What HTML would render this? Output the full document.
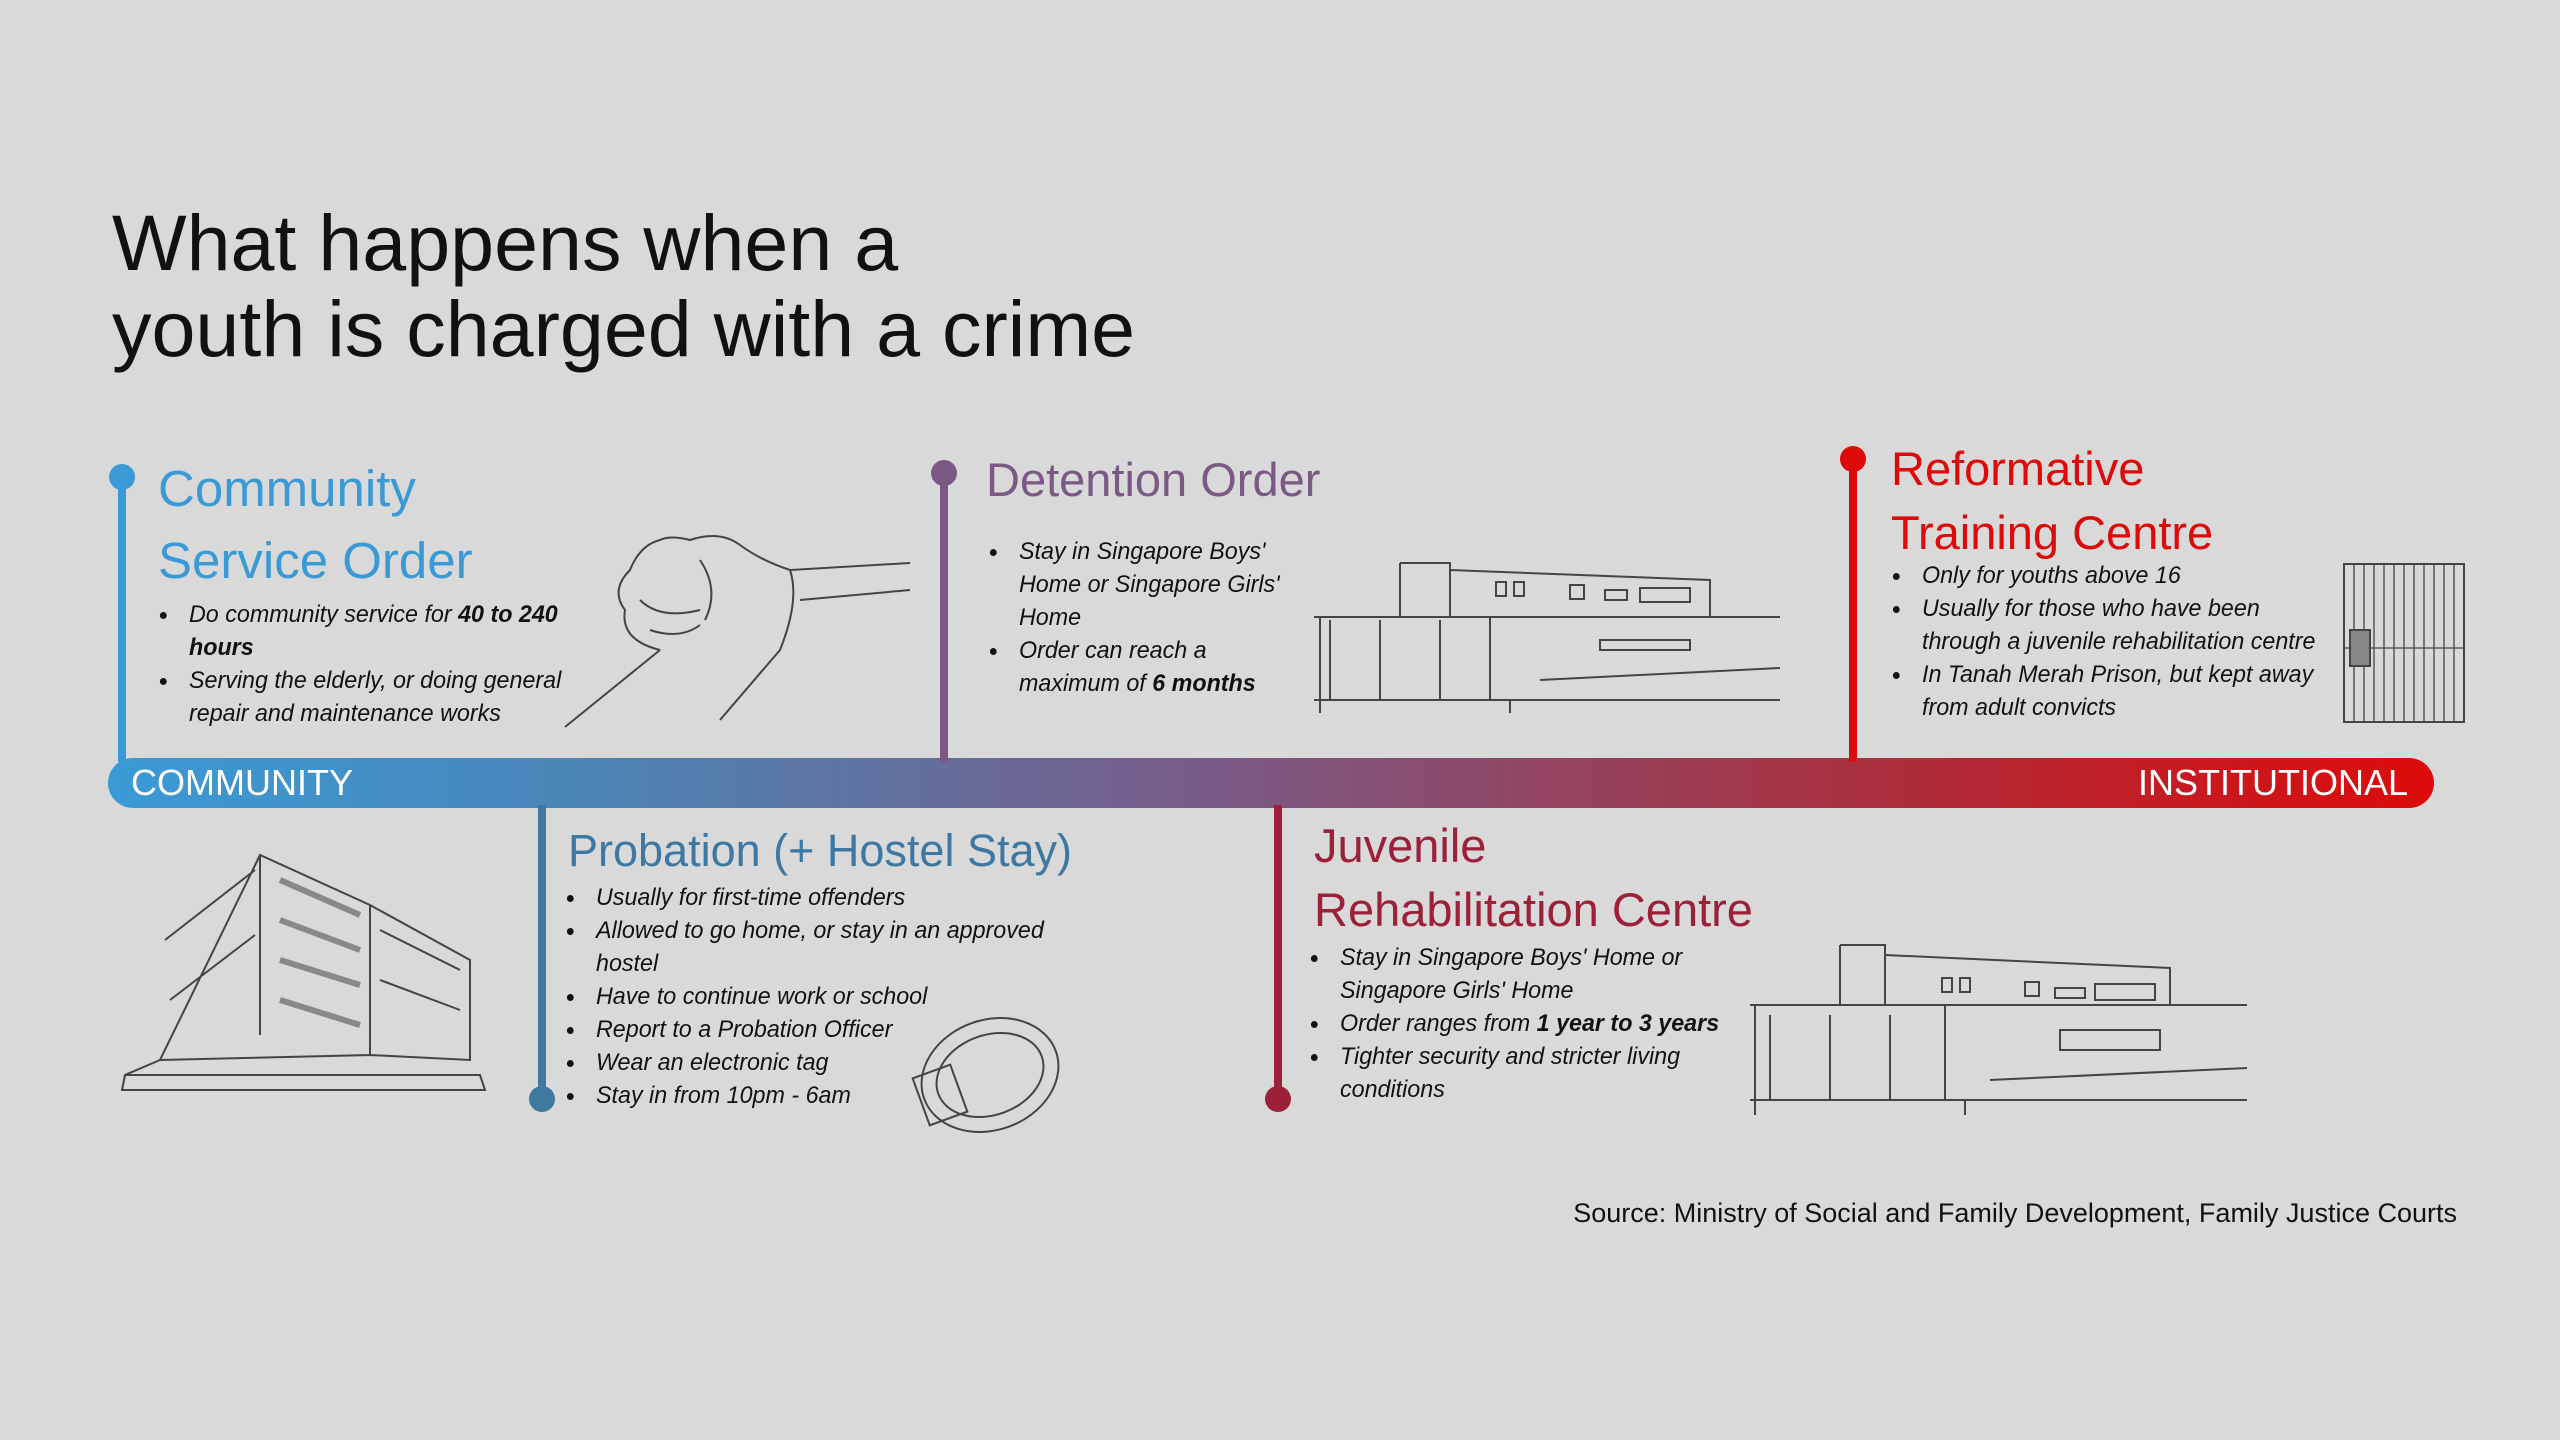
<!DOCTYPE html>
<html><head><meta charset="utf-8">
<style>
*{margin:0;padding:0;box-sizing:border-box}
body{width:2560px;height:1440px;background:#d9d9d9;position:relative;overflow:hidden;font-family:"Liberation Sans",sans-serif}
.a{position:absolute;white-space:nowrap}
.t{font-size:79px;line-height:86px;color:#111;left:112px;top:200px}
.h{font-size:47px;line-height:64px}
.b{font-size:24px;line-height:33px;font-style:italic;color:#111;transform:scaleX(0.97);transform-origin:0 0}
.b li{list-style:none;position:relative}
.b li.d:before{content:"";position:absolute;left:-30px;top:14px;width:7px;height:7px;border-radius:50%;background:#111}
.v{position:absolute;width:8px}
.dot{position:absolute;width:26px;height:26px;border-radius:50%}
</style></head><body>
<div class="a t">What happens when a<br>youth is charged with a crime</div>

<div style="position:absolute;left:108px;top:758px;width:2326px;height:50px;border-radius:25px;background:linear-gradient(90deg,#3a9ad6 0%,#4a86b8 20%,#7a5a85 48%,#a8303f 75%,#dd0a0a 100%)"></div>
<div class="a" style="left:131px;top:760px;font-size:36px;line-height:46px;color:#fff">COMMUNITY</div>
<div class="a" style="right:152px;top:760px;font-size:36px;line-height:46px;color:#fff">INSTITUTIONAL</div>

<div class="v" style="left:118px;top:477px;height:285px;background:#3a9ad6"></div><div class="dot" style="left:109px;top:464px;background:#3a9ad6"></div>
<div class="v" style="left:940px;top:473px;height:289px;background:#7a5a85"></div><div class="dot" style="left:931px;top:460px;background:#7a5a85"></div>
<div class="v" style="left:1849px;top:459px;height:303px;background:#dd0a0a"></div><div class="dot" style="left:1840px;top:446px;background:#dd0a0a"></div>
<div class="v" style="left:538px;top:805px;height:294px;background:#3e7aa0"></div><div class="dot" style="left:529px;top:1086px;background:#3e7aa0"></div>
<div class="v" style="left:1274px;top:805px;height:294px;background:#9b2038"></div><div class="dot" style="left:1265px;top:1086px;background:#9b2038"></div>

<div class="a h" style="left:158px;top:453px;color:#3a9ad6;line-height:72px;font-size:51px">Community<br>Service Order</div>
<div class="a h" style="left:986px;top:448px;color:#7a5a85">Detention Order</div>
<div class="a h" style="left:1891px;top:437px;color:#dd0a0a">Reformative<br>Training Centre</div>
<div class="a h" style="left:568px;top:819px;color:#3d78a3;font-size:45px">Probation (+ Hostel Stay)</div>
<div class="a h" style="left:1314px;top:814px;color:#9b2038">Juvenile<br>Rehabilitation Centre</div>

<ul class="a b" style="left:189px;top:598px"><li class="d">Do community service for <b>40 to 240</b></li><li><b>hours</b></li><li class="d">Serving the elderly, or doing general</li><li>repair and maintenance works</li></ul>
<ul class="a b" style="left:1019px;top:535px"><li class="d">Stay in Singapore Boys'</li><li>Home or Singapore Girls'</li><li>Home</li><li class="d">Order can reach a</li><li>maximum of <b>6 months</b></li></ul>
<ul class="a b" style="left:1922px;top:559px"><li class="d">Only for youths above 16</li><li class="d">Usually for those who have been</li><li>through a juvenile rehabilitation centre</li><li class="d">In Tanah Merah Prison, but kept away</li><li>from adult convicts</li></ul>
<ul class="a b" style="left:596px;top:881px"><li class="d">Usually for first-time offenders</li><li class="d">Allowed to go home, or stay in an approved</li><li>hostel</li><li class="d">Have to continue work or school</li><li class="d">Report to a Probation Officer</li><li class="d">Wear an electronic tag</li><li class="d">Stay in from 10pm - 6am</li></ul>
<ul class="a b" style="left:1340px;top:941px"><li class="d">Stay in Singapore Boys' Home or</li><li>Singapore Girls' Home</li><li class="d">Order ranges from <b>1 year to 3 years</b></li><li class="d">Tighter security and stricter living</li><li>conditions</li></ul>

<div class="a" style="right:103px;top:1196px;font-size:27px;line-height:34px;color:#111">Source: Ministry of Social and Family Development, Family Justice Courts</div>

<svg class="a" style="left:0;top:0" width="2560" height="1440" fill="none" stroke="#444" stroke-width="2">
<path d="M565 727 L660 650 M720 720 L780 650 Q800 600 790 570 L910 563 M800 600 L910 590 M660 650 Q620 640 625 610 Q610 590 630 570 Q640 545 660 540 Q670 535 690 540 Q720 530 740 545 Q760 560 790 570"/>
<path d="M640 600 Q660 620 700 610 M650 630 Q680 640 700 625 M700 560 Q720 590 705 620"/>
<path d="M1314 617 L1780 617 M1314 700 L1780 700 M1320 617 L1320 713 M1400 563 L1450 563 L1450 617 M1400 563 L1400 617 M1450 570 L1710 580 L1710 617 M1330 620 L1330 700 M1380 620 L1380 700 M1440 620 L1440 700 M1490 617 L1490 700 M1600 640 L1690 640 L1690 650 L1600 650 Z M1540 680 L1780 668 M1510 700 L1510 713"/>
<rect x="1496" y="582" width="10" height="14"/><rect x="1514" y="582" width="10" height="14"/><rect x="1570" y="585" width="14" height="14"/><rect x="1605" y="590" width="22" height="10"/><rect x="1640" y="588" width="50" height="14"/>
<rect x="2344" y="564" width="120" height="158"/>
<path d="M2354 564V722M2364 564V722M2374 564V722M2384 564V722M2394 564V722M2404 564V722M2414 564V722M2424 564V722M2434 564V722M2444 564V722M2454 564V722 M2344 648 L2464 648" stroke-width="1.3"/>
<rect x="2350" y="630" width="20" height="36" fill="#888"/>
<path d="M125 1075 L160 1060 L260 855 L370 905 L370 1055 L160 1060 M260 855 L260 1035 M165 940 L255 870 M170 1000 L255 935 M370 905 L470 960 L470 1060 L370 1055 M380 930 L460 970 M380 980 L460 1010 M125 1075 L480 1075 L485 1090 L122 1090 Z"/>
<path d="M280 880 L360 915 M280 920 L360 950 M280 960 L360 985 M280 1000 L360 1025" stroke-width="6" stroke="#888"/>
<ellipse cx="990" cy="1075" rx="70" ry="55" transform="rotate(-20 990 1075)"/>
<ellipse cx="990" cy="1075" rx="55" ry="40" transform="rotate(-20 990 1075)"/>
<rect x="920" y="1070" width="40" height="50" transform="rotate(-20 940 1095)"/>
<path d="M1750 1005 L2247 1005 M1750 1100 L2247 1100 M1755 1005 L1755 1115 M1840 945 L1885 945 L1885 1005 M1840 945 L1840 1005 M1885 955 L2170 968 L2170 1005 M1770 1015 L1770 1100 M1830 1015 L1830 1100 M1890 1015 L1890 1100 M1945 1005 L1945 1100 M2060 1030 L2160 1030 L2160 1050 L2060 1050 Z M1990 1080 L2247 1068 M1965 1100 L1965 1115"/>
<rect x="1942" y="978" width="10" height="14"/><rect x="1960" y="978" width="10" height="14"/><rect x="2025" y="982" width="14" height="14"/><rect x="2055" y="988" width="30" height="10"/><rect x="2095" y="984" width="60" height="16"/>
</svg>
</body></html>
